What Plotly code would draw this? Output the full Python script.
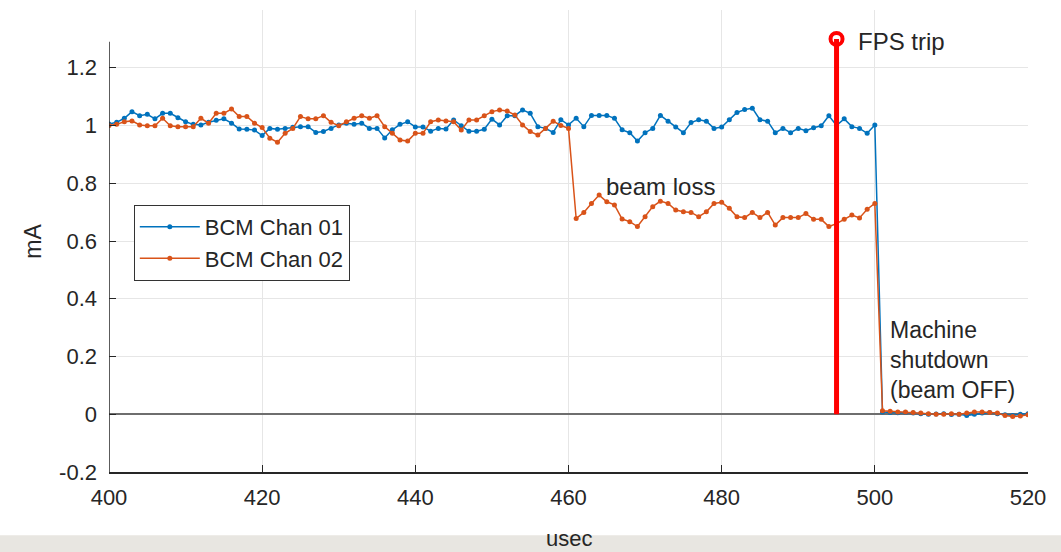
import plotly.graph_objects as go

# ---- data ----
usec = list(range(400, 521))

bcm_chan01 = [
    1.005, 1.011, 1.025, 1.048, 1.034, 1.039, 1.023, 1.042, 1.042, 1.027,
    1.013, 1.004, 1.002, 1.011, 1.018, 1.023, 1.008, 0.988, 0.987, 0.984,
    0.965, 0.990, 0.987, 0.990, 0.994, 0.996, 0.996, 0.976, 0.979, 0.990,
    1.002, 1.008, 1.004, 1.008, 0.990, 0.990, 0.957, 0.985, 1.004, 1.013,
    0.995, 0.995, 0.980, 0.990, 0.988, 1.019, 0.999, 0.980, 0.980, 0.987,
    1.022, 1.002, 1.034, 1.034, 1.054, 1.042, 0.996, 0.990, 0.976, 1.020,
    1.002, 1.025, 0.996, 1.035, 1.035, 1.035, 1.025, 0.985, 0.975, 0.946,
    0.975, 0.990, 1.035, 1.015, 0.995, 0.975, 1.010, 1.020, 1.015, 0.990,
    0.995, 1.020, 1.045, 1.055, 1.060, 1.020, 1.015, 0.975, 0.990, 0.975,
    0.990, 0.982, 0.992, 0.999, 1.034, 1.000, 1.023, 0.996, 0.990, 0.973,
    1.002,
    0.008, 0.006, 0.005, 0.006, 0.004, 0.002, 0.000, 0.001, 0.002, -0.001,
    0.000, -0.004, 0.000, 0.004, 0.006, 0.002, -0.002, -0.004, 0.000, 0.002,
]

bcm_chan02 = [
    1.000, 1.004, 1.013, 1.016, 1.002, 0.999, 0.999, 1.025, 0.999, 0.996,
    0.996, 0.996, 1.025, 1.008, 1.042, 1.042, 1.057, 1.031, 1.031, 1.008,
    0.993, 0.956, 0.942, 0.973, 0.990, 1.031, 1.023, 1.023, 1.034, 1.011,
    0.999, 1.013, 1.025, 1.034, 1.025, 1.034, 0.996, 0.973, 0.950, 0.946,
    0.973, 0.973, 1.013, 1.019, 1.016, 1.013, 0.984, 1.019, 1.019, 1.034,
    1.048, 1.054, 1.050, 1.036, 1.002, 0.979, 0.967, 0.990, 1.015, 1.000,
    0.990,
    0.678, 0.699, 0.730, 0.759, 0.736, 0.725, 0.676, 0.667, 0.650, 0.684,
    0.719, 0.738, 0.730, 0.707, 0.701, 0.699, 0.684, 0.701, 0.730, 0.734,
    0.713, 0.684, 0.681, 0.699, 0.681, 0.699, 0.655, 0.681, 0.681, 0.681,
    0.695, 0.675, 0.675, 0.650, 0.660, 0.675, 0.690, 0.680, 0.710, 0.730,
    0.012, 0.010, 0.008, 0.008, 0.006, 0.004, 0.002, 0.000, 0.000, 0.002,
    0.000, 0.004, 0.008, 0.008, 0.006, 0.004, -0.004, -0.008, -0.006, -0.002,
]

fps_trip_x = [495, 495]
fps_trip_y = [0, 1.3]

x_ticks = [400, 420, 440, 460, 480, 500, 520]
y_ticks = [-0.2, 0, 0.2, 0.4, 0.6, 0.8, 1, 1.2]
y_tick_text = ["-0.2", "0", "0.2", "0.4", "0.6", "0.8", "1", "1.2"]

BLUE = "#0072BD"
ORANGE = "#D95319"
TXT = "#262626"
FONT = "Arial, Liberation Sans, sans-serif"

fig = go.Figure()
fig.add_trace(go.Scatter(x=usec, y=bcm_chan01, mode="lines+markers", name="BCM Chan 01",
                         line=dict(color=BLUE, width=1.5), marker=dict(color=BLUE, size=5)))
fig.add_trace(go.Scatter(x=usec, y=bcm_chan02, mode="lines+markers", name="BCM Chan 02",
                         line=dict(color=ORANGE, width=1.5), marker=dict(color=ORANGE, size=5)))
fig.add_trace(go.Scatter(x=fps_trip_x, y=fps_trip_y, mode="lines", showlegend=False,
                         line=dict(color="#ff0000", width=5), hoverinfo="skip"))
fig.add_trace(go.Scatter(x=fps_trip_x[1:], y=fps_trip_y[1:], mode="markers", showlegend=False,
                         marker=dict(symbol="circle-open", size=12, color="#ff0000",
                                     line=dict(width=4, color="#ff0000")), hoverinfo="skip"))

fig.update_layout(
    width=1061, height=552,
    margin=dict(l=109, r=33, t=10, b=80),
    paper_bgcolor="white", plot_bgcolor="white",
    font=dict(family=FONT, color=TXT, size=22),
    showlegend=True,
    legend=dict(x=0.027, y=0.578, xanchor="left", yanchor="top",
                bgcolor="white", bordercolor="#333333", borderwidth=1,
                font=dict(size=22, color=TXT), itemwidth=60,
                tracegroupgap=0),
    xaxis=dict(range=[400, 520], tickvals=x_ticks, showgrid=True, gridcolor="#e6e6e6", gridwidth=1,
               zeroline=False, showline=True, linecolor=TXT, linewidth=1.5,
               ticks="inside", ticklen=7, tickcolor=TXT, ticklabelstandoff=5,
               tickfont=dict(size=22, color=TXT)),
    yaxis=dict(range=[-0.2, 1.4], tickvals=y_ticks, ticktext=y_tick_text,
               showgrid=True, gridcolor="#e6e6e6", gridwidth=1,
               zeroline=True, zerolinecolor="#6e6e6e", zerolinewidth=1.5,
               showline=False, ticks="inside", ticklen=7, tickcolor=TXT, ticklabelstandoff=11,
               tickfont=dict(size=22, color=TXT)),
    shapes=[
        dict(type="rect", xref="paper", yref="paper", x0=-0.2, x1=1.1, y0=-0.137, y1=-0.3,
             fillcolor="#e8e6e1", line=dict(width=0), layer="below"),
        dict(type="line", xref="x", yref="y", x0=400, x1=400, y0=-0.2, y1=1.29,
             line=dict(color=TXT, width=1.5)),
    ],
    annotations=[
        dict(text="FPS trip", x=497.6, y=1.29, xref="x", yref="y", xanchor="left", yanchor="middle",
             showarrow=False, font=dict(size=24, color=TXT)),
        dict(text="beam loss", x=464.6, y=0.79, xref="x", yref="y", xanchor="left", yanchor="middle",
             showarrow=False, font=dict(size=24, color=TXT)),
        dict(text="Machine<br>shutdown<br>(beam OFF)", x=501.7, y=0.188, xref="x", yref="y",
             xanchor="left", yanchor="middle", align="left",
             showarrow=False, font=dict(size=23, color=TXT)),
        dict(text="mA", x=-0.083, y=0.5, xref="paper", yref="paper", textangle=-90,
             xanchor="center", yanchor="middle", showarrow=False, font=dict(size=23, color=TXT)),
        dict(text="usec", x=0.5, y=-0.143, xref="paper", yref="paper",
             xanchor="center", yanchor="middle", showarrow=False, font=dict(size=22, color=TXT)),
    ],
)

fig.write_html("out.html", config={"displayModeBar": False},
               post_script="document.body.style.margin='0';document.body.style.overflow='hidden';")
